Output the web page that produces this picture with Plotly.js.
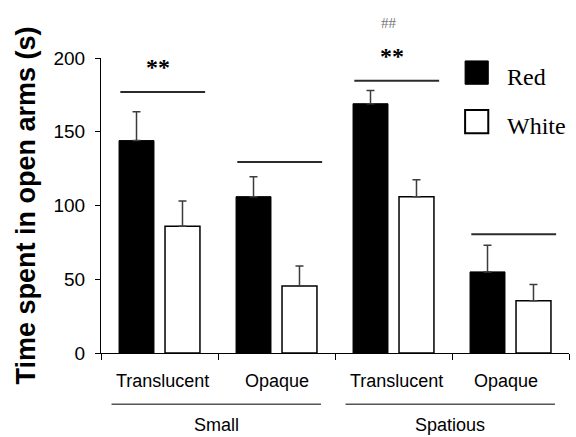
<!DOCTYPE html>
<html>
<head>
<meta charset="utf-8">
<script src="https://cdn.plot.ly/plotly-3.0.1.min.js"></script>
<style>html,body{margin:0;padding:0;background:#fff;}#chart{width:576px;height:437px;}</style>
</head>
<body>
<div id="chart"></div>
<script>
// ---- data ----
const groups = ['Small', 'Small', 'Spatious', 'Spatious'];
const boxes = ['Translucent', 'Opaque', 'Translucent', 'Opaque'];
const groupNames = ['Small', 'Spatious'];
const seriesNames = ['Red', 'White'];
const redVals = [144, 106, 169, 55];
const redErr = [19.5, 13.5, 9, 18];
const whiteVals = [86, 45.5, 106, 35.5];
const whiteErr = [17, 13.5, 11.5, 11];
const sigLevel = [177, 129.5, 184.5, 80.5];
const starMarks = ['**', '', '**', ''];
const hashMarks = ['', '', '##', ''];
const yTicks = [0, 50, 100, 150, 200];

const cats = groups.map((g, i) => g + ' ' + boxes[i]);
const zeros = cats.map(() => 0);

const sans = 'Liberation Sans, Arial, sans-serif';
const serif = 'Liberation Serif, Times New Roman, serif';

const errStyle = (arr) => ({
  type: 'data', symmetric: false, array: arr, arrayminus: zeros,
  color: '#3c3c3c', thickness: 1.5, width: 4
});

const traces = [
  {type: 'bar', name: seriesNames[0], x: cats, y: redVals,
   marker: {color: '#000', line: {color: '#000', width: 1}},
   error_y: errStyle(redErr), hoverinfo: 'skip'},
  {type: 'bar', name: seriesNames[1], x: cats, y: whiteVals,
   marker: {color: '#fff', line: {color: '#000', width: 1.5}},
   error_y: errStyle(whiteErr), hoverinfo: 'skip'}
];

const shapes = [];
const annotations = [];

// significance lines and marks
sigLevel.forEach((v, i) => {
  shapes.push({type: 'line', xref: 'x', yref: 'y', x0: i - 0.335, x1: i + 0.39, y0: v, y1: v,
    line: {color: '#2b2b2b', width: 2}});
  if (starMarks[i]) annotations.push({xref: 'x', yref: 'y', x: i - 0.01, y: v, yshift: 25,
    text: starMarks[i], showarrow: false,
    font: {family: serif, size: 24, color: 'black', weight: 'bold'}});
  if (hashMarks[i]) annotations.push({xref: 'x', yref: 'y', x: i - 0.04, y: v, yshift: 58,
    text: hashMarks[i], showarrow: false, font: {family: serif, size: 15, color: '#777777'}});
});

// inner category labels
const innerShift = [3, 0, 3, -5];
boxes.forEach((b, i) => {
  annotations.push({xref: 'x', yref: 'paper', x: i, y: -0.094, xshift: innerShift[i],
    yanchor: 'middle', text: b, showarrow: false, font: {family: sans, size: 18, color: '#000000'}});
});

// group underline + labels
groupNames.forEach((g, k) => {
  const c = 0.5 + 2 * k;
  shapes.push({type: 'line', xref: 'x', yref: 'paper', x0: c - 0.91, x1: c + 0.88, y0: -0.174, y1: -0.174,
    line: {color: '#555', width: 1.5}});
  annotations.push({xref: 'x', yref: 'paper', x: c - 0.015, y: -0.243, yanchor: 'middle',
    text: g, showarrow: false, font: {family: sans, size: 18, color: '#000000'}});
});

// legend (drawn manually)
const legY = [[0.99, 0.911], [0.824, 0.745]];
seriesNames.forEach((n, k) => {
  shapes.push({type: 'rect', xref: 'paper', yref: 'paper', x0: 0.778, x1: 0.8275,
    y0: legY[k][1], y1: legY[k][0],
    fillcolor: k === 0 ? '#000' : '#fff', line: {color: '#000', width: k === 0 ? 1 : 2}});
  annotations.push({xref: 'paper', yref: 'paper', x: 0.864, y: (legY[k][0] + legY[k][1]) / 2 - 0.015,
    xanchor: 'left', yanchor: 'middle', text: n, showarrow: false,
    font: {family: serif, size: 24, color: '#000000'}});
});

const layout = {
  width: 576, height: 437,
  margin: {l: 101, r: 7, t: 58, b: 84},
  paper_bgcolor: '#fff', plot_bgcolor: '#fff',
  showlegend: false,
  font: {color: '#000000'},
  barmode: 'group', bargap: 0.214, bargroupgap: 0.24,
  xaxis: {type: 'category', range: [-0.5, 3.5], showline: true, linecolor: '#000', linewidth: 1,
    ticks: 'outside', tickson: 'boundaries', ticklen: 6, tickcolor: '#000', tickwidth: 1,
    showticklabels: false, showgrid: false, zeroline: false, fixedrange: true},
  yaxis: {range: [0, 200], tickvals: yTicks, ticks: 'outside', ticklen: 5, tickcolor: '#000',
    showline: true, linecolor: '#000', linewidth: 1, showgrid: false, zeroline: false,
    ticklabelstandoff: 6,
    tickfont: {family: sans, size: 19, color: '#000'},
    title: {text: 'Time spent in open arms (s)', standoff: 10,
      font: {family: sans, size: 27, color: '#000', weight: 'bold'}}},
  shapes: shapes,
  annotations: annotations
};

Plotly.newPlot('chart', traces, layout, {displayModeBar: false, staticPlot: true});
</script>
</body>
</html>
